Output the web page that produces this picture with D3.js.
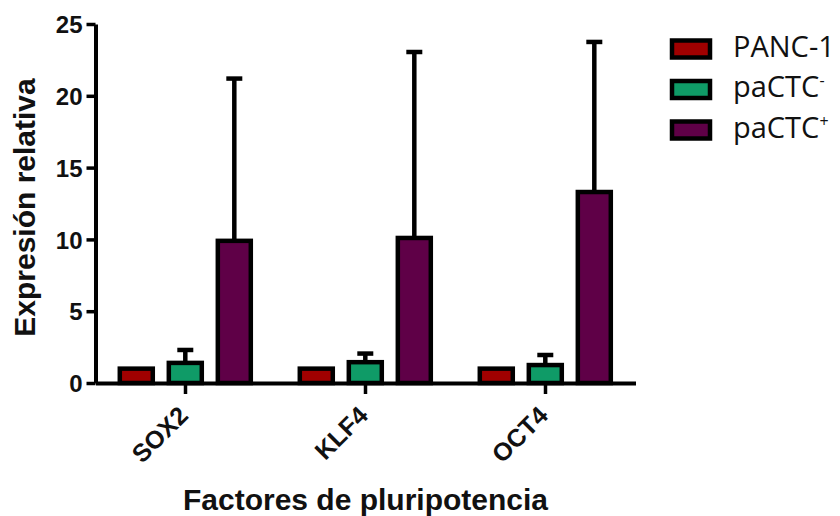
<!DOCTYPE html>
<html lang="es">
<head>
  <meta charset="utf-8" />
  <title>Expresión relativa</title>
  <script src="https://d3js.org/d3.v7.min.js"></script>
  <style>
    body { margin: 0; background: #fff; }
    .axis path, .axis line { stroke: #000; }
    .axis text { font-family: "Liberation Sans", Arial, sans-serif; font-weight: bold; fill: #111; }
  </style>
</head>
<body>
  <script>
    // data
    var categories = ["SOX2", "KLF4", "OCT4"];
    var groups = ["PANC-1", "paCTC-", "paCTC+"];
    var means = {
      "PANC-1": [1.0, 1.0, 1.0],
      "paCTC-": [1.4, 1.45, 1.25],
      "paCTC+": [9.9, 10.1, 13.3]
    };
    var errUp = {
      "PANC-1": [0, 0, 0],
      "paCTC-": [0.9, 0.6, 0.7],
      "paCTC+": [11.3, 12.95, 10.45]
    };
    var colors = ["#a00000", "#0f9b67", "#5f0047"];
    var yTicks = [0, 5, 10, 15, 20, 25];

    var svg_width = 840, svg_height = 516;
    var margin = { top: 24, left: 95.5, right: 204.5, bottom: 133 };
    var width = svg_width - margin.left - margin.right;
    var height = svg_height - margin.top - margin.bottom;

    var svg = d3.select("body").append("svg")
      .attr("width", svg_width)
      .attr("height", svg_height);

    var g = svg.append("g")
      .attr("transform", "translate(" + margin.left + "," + margin.top + ")");

    var x = d3.scaleBand().domain(categories).range([0, width]).padding(0);
    var xSub = d3.scaleBand().domain(groups).range([24.3, 155.3]).paddingInner(0.327);
    var y = d3.scaleLinear().domain([0, 25]).range([height, 0]);

    var rows = [];
    categories.forEach(function (c, i) {
      groups.forEach(function (s) {
        rows.push({ cat: c, grp: s, v: means[s][i], e: errUp[s][i] });
      });
    });

    function cx(d) { return x(d.cat) + xSub(d.grp) + xSub.bandwidth() / 2; }

    // error bars (upper only, drawn behind bars)
    var eb = g.selectAll(".err").data(rows.filter(function (d) { return d.e > 0; }))
      .enter().append("g").attr("class", "err");
    eb.append("line")
      .attr("x1", cx).attr("x2", cx)
      .attr("y1", function (d) { return y(d.v); })
      .attr("y2", function (d) { return y(d.v + d.e); })
      .attr("stroke", "#000").attr("stroke-width", 4.5);
    eb.append("line")
      .attr("x1", function (d) { return cx(d) - 8; })
      .attr("x2", function (d) { return cx(d) + 8; })
      .attr("y1", function (d) { return y(d.v + d.e); })
      .attr("y2", function (d) { return y(d.v + d.e); })
      .attr("stroke", "#000").attr("stroke-width", 4.5);

    g.selectAll(".bar").data(rows).enter().append("rect")
      .attr("class", "bar")
      .attr("x", function (d) { return x(d.cat) + xSub(d.grp); })
      .attr("width", xSub.bandwidth())
      .attr("y", function (d) { return y(d.v); })
      .attr("height", function (d) { return height - y(d.v); })
      .attr("fill", function (d) { return colors[groups.indexOf(d.grp)]; })
      .attr("stroke", "#000")
      .attr("stroke-width", 4.5);

    // axes
    var yAxis = g.append("g").attr("class", "axis")
      .call(d3.axisLeft(y).tickValues(yTicks).tickSize(9).tickPadding(4).tickSizeOuter(0));
    yAxis.select(".domain").attr("stroke-width", 4);
    yAxis.selectAll(".tick line").attr("stroke-width", 3.5);
    yAxis.selectAll("text").attr("font-size", 24).attr("dy", "0.36em");

    var xAxis = g.append("g").attr("class", "axis")
      .attr("transform", "translate(0," + height + ")")
      .call(d3.axisBottom(x).tickSize(11).tickSizeOuter(0));
    xAxis.select(".domain").attr("stroke-width", 4);
    xAxis.selectAll(".tick line").attr("stroke-width", 3.5);
    xAxis.selectAll(".tick text")
      .attr("font-size", 25)
      .attr("text-anchor", "end")
      .attr("x", 0).attr("y", 0).attr("dy", 0)
      .attr("transform", "translate(4,34) rotate(-45)");

    // axis titles
    svg.append("text")
      .attr("transform", "translate(35,207.5) rotate(-90)")
      .attr("text-anchor", "middle")
      .attr("font-family", "Liberation Sans, Arial, sans-serif")
      .attr("font-weight", "bold").attr("font-size", 30).attr("fill", "#111")
      .text("Expresión relativa");

    svg.append("text")
      .attr("x", margin.left + width / 2).attr("y", 510)
      .attr("text-anchor", "middle")
      .attr("font-family", "Liberation Sans, Arial, sans-serif")
      .attr("font-weight", "bold").attr("font-size", 30).attr("fill", "#111")
      .text("Factores de pluripotencia");

    // legend
    var labels = [["PANC-1", ""], ["paCTC", "-"], ["paCTC", "+"]];
    var leg = svg.append("g").attr("transform", "translate(672,40.5)");
    var li = leg.selectAll(".li").data(groups).enter().append("g")
      .attr("transform", function (d, i) { return "translate(0," + (i * 40.5) + ")"; });
    li.append("rect")
      .attr("width", 38).attr("height", 17)
      .attr("fill", function (d, i) { return colors[i]; })
      .attr("stroke", "#000").attr("stroke-width", 4.5);
    var lt = li.append("text")
      .attr("x", 61).attr("y", function (d, i) { return i === 0 ? 16 : 15.5 + (i === 2 ? 1 : 0); })
      .attr("font-family", "Open Sans, sans-serif")
      .attr("font-size", 29).attr("fill", "#111");
    lt.append("tspan").text(function (d, i) { return labels[i][0]; });
    lt.append("tspan").attr("font-size", 16).attr("dy", -11)
      .text(function (d, i) { return labels[i][1]; });
  </script>
</body>
</html>
